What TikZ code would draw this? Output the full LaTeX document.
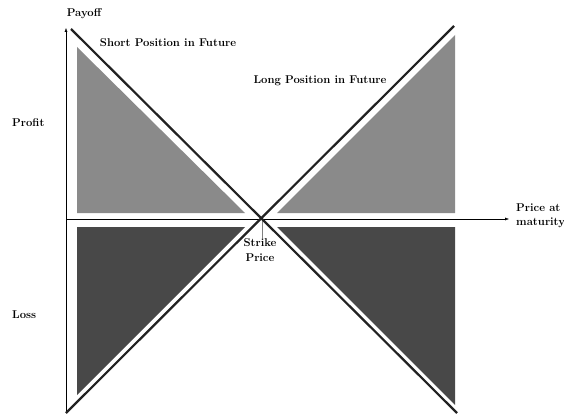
\documentclass[tikz,border=0pt]{standalone}
\usetikzlibrary{arrows.meta}

\definecolor{light-gray}{RGB}{138, 138, 138}
\definecolor{dark-gray}{RGB}{72, 72, 72}
\definecolor{line-gray}{RGB}{34, 34, 34}

\begin{document}
\begin{tikzpicture}[
        x=1pt, y=-1pt,
        every node/.style={font=\fontsize{11.3}{14.5}\selectfont\bfseries, align=center, inner sep=0pt},
        axis/.style={thin, -{Latex[length=4pt, width=3pt]}},
        payoff/.style={line-gray, line width=2.2pt},
    ]
        \useasboundingbox (0,0) rectangle (564,414);

        % triangles
        \fill[light-gray] (77,47) -- (77,213) -- (245,213) -- cycle;
        \fill[light-gray] (455,35) -- (455,213) -- (277,213) -- cycle;
        \fill[dark-gray] (77,227) -- (245,227) -- (77,395) -- cycle;
        \fill[dark-gray] (277,227) -- (455,227) -- (455,405) -- cycle;

        % axes
        \coordinate (origin) at (66,413);
        \coordinate (ytop) at (66,28);
        \coordinate (xleft) at (66,219);
        \coordinate (xright) at (509,219);
        \coordinate (strike) at (262,219);
        \coordinate (tick) at (262,238);
        \draw[axis] (origin) -- (ytop);
        \draw[axis] (xleft) -- (xright);
        \draw[gray] (strike) -- (tick);

        % payoff lines
        \coordinate (short-start) at (71,29);
        \coordinate (short-end) at (457,413);
        \coordinate (long-start) at (66,413);
        \coordinate (long-end) at (454,26);
        \draw[payoff] (short-start) -- (short-end);
        \draw[payoff] (long-start) -- (long-end);

        % labels
        \node (payoff) at (84,14) {Payoff};
        \node (short) at (168,43) {Short Position in Future};
        \node (long) at (320,81) {Long Position in Future};
        \node[anchor=west] (profit) at (12,123) {Profit};
        \node[anchor=west] (loss) at (12,315) {Loss};
        \node (strike-price) at (260,250) {Strike\\Price};
        \node[anchor=west, align=left] (price) at (516,216) {Price at\\maturity};
    \end{tikzpicture}
\end{document}
